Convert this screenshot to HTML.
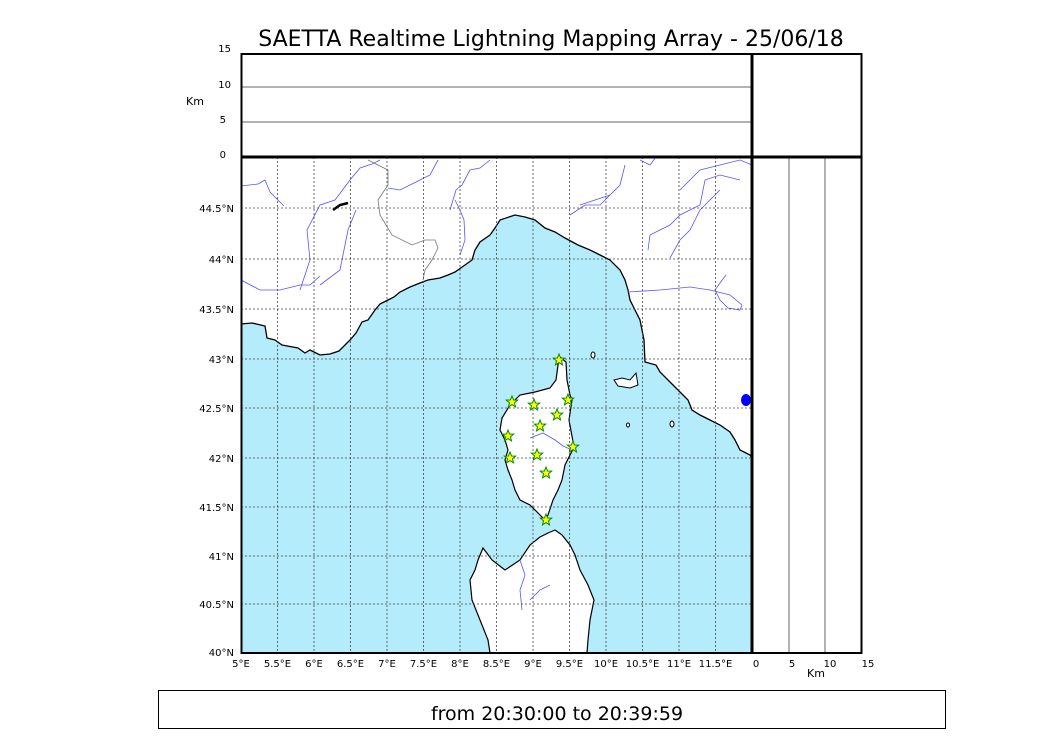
<!DOCTYPE html>
<html><head><meta charset="utf-8"><style>
body{margin:0;background:#fff;width:1050px;height:750px;overflow:hidden;font-family:"DejaVu Sans",sans-serif}
</style></head><body>
<svg width="1050" height="750" viewBox="0 0 1050 750" xmlns="http://www.w3.org/2000/svg" font-family="DejaVu Sans, sans-serif">
<text x="551" y="46" font-size="22" text-anchor="middle">SAETTA Realtime Lightning Mapping Array - 25/06/18</text>
<line x1="241" y1="87" x2="752" y2="87" stroke="#666" stroke-width="1"/>
<line x1="241" y1="122" x2="752" y2="122" stroke="#666" stroke-width="1"/>
<g font-size="10" text-anchor="end">
<text x="231" y="52">15</text><text x="231" y="88">10</text><text x="226" y="123">5</text><text x="226" y="158">0</text>
</g>
<text x="186" y="105" font-size="11">Km</text>
<polygon fill="#b5ecfb" points="241,324 252,323 265,326 267,338 275,340 282,345 298,348 305,353 310,350 320,355 330,354 339,351 350,340 356,333 362,322 368,320 375,310 380,304 388,300 394,297 400,292 410,287 420,283 428,280 440,278 448,275 455,272 465,265 472,260 475,250 480,242 490,235 495,228 500,220 515,215 525,217 535,220 545,228 555,232 565,238 578,245 590,250 600,255 610,260 620,270 625,280 628,290 630,300 635,310 640,320 642,330 644,340 645,362 656,365 660,372 670,382 680,392 688,400 692,410 700,415 710,420 720,425 730,432 735,440 740,450 750,455 752,458 752,653 241,653"/>
<polyline fill="none" stroke="#000" stroke-width="1.3" points="241,324 252,323 265,326 267,338 275,340 282,345 298,348 305,353 310,350 320,355 330,354 339,351 350,340 356,333 362,322 368,320 375,310 380,304 388,300 394,297 400,292 410,287 420,283 428,280 440,278 448,275 455,272 465,265 472,260 475,250 480,242 490,235 495,228 500,220 515,215 525,217 535,220 545,228 555,232 565,238 578,245 590,250 600,255 610,260 620,270 625,280 628,290 630,300 635,310 640,320 642,330 644,340 645,362 656,365 660,372 670,382 680,392 688,400 692,410 700,415 710,420 720,425 730,432 735,440 740,450 750,455 752,458"/>
<polygon fill="#fff" stroke="#000" stroke-width="1.2" points="560,357 566,362 567,380 570,395 572,400 569,420 574,447 565,465 562,480 558,490 553,500 548,515 545,520 540,515 530,505 520,500 515,490 512,480 508,470 505,460 508,450 505,440 500,430 502,418 510,405 520,395 535,392 550,388 556,380 558,365"/>
<polygon fill="#fff" stroke="#000" stroke-width="1.2" points="548,533 555,530 562,535 570,545 575,555 580,570 588,585 594,600 590,620 588,640 587,653 490,653 488,640 480,620 472,600 470,580 475,570 478,560 483,548 492,560 505,570 520,560 530,545 540,537"/>
<polygon fill="#fff" stroke="#000" stroke-width="1" points="614,380 622,378 630,380 636,373 638,385 630,388 618,386"/>
<ellipse cx="593" cy="355" rx="2" ry="3" fill="#fff" stroke="#000"/>
<ellipse cx="672" cy="424" rx="2" ry="3" fill="#fff" stroke="#000"/>
<ellipse cx="628" cy="425" rx="1.5" ry="2" fill="#fff" stroke="#000"/>
<g fill="none" stroke="#55f" stroke-width="0.8">
<polyline points="241,186 258,184 265,180 270,192 284,206"/>
<polyline points="241,280 260,290 280,290 300,285 310,285 320,276"/>
<polyline points="356,210 348,230 345,245 340,270 320,285"/>
<polyline points="300,290 310,260 307,230 320,205 335,200 350,180 360,168 372,164 380,160"/>
<polyline points="388,188 400,190 410,185 420,180 430,175 438,160"/>
<polyline points="450,210 456,190 462,185 470,170 480,168 490,160"/>
<polyline points="460,255 465,240 464,220 460,210 455,200"/>
<polyline points="570,215 585,205 600,205 620,185 625,165"/>
<polyline points="580,205 610,195"/>
<polyline points="648,250 650,235 670,225 680,215 700,205 705,180 720,175 740,180"/>
<polyline points="670,258 680,240 690,230 700,210 720,190"/>
<polyline points="628,292 660,290 690,287 710,290 730,295 742,305 740,310 728,308 720,300 715,290 720,283 726,275"/>
<polyline points="680,190 700,170 720,165 740,160 752,165"/>
<polyline points="530,438 543,433 555,440 563,446 572,450"/>
<polyline points="520,560 525,575 520,590 522,610"/>
<polyline points="530,600 540,590 550,585"/>
<polyline points="640,160 650,165 656,157"/>
</g>
<polyline fill="none" stroke="#777" stroke-width="0.8" points="368,160 388,170 388,185 378,200 380,215 386,225 392,235 412,245 425,240 435,240 438,248 432,260 425,270 423,280"/>
<path d="M333,210 L340,205 L348,203" stroke="#000" stroke-width="2.5" fill="none"/>
<g stroke="#444" stroke-width="0.8" stroke-dasharray="2,2">
<line x1="277.5" y1="157" x2="277.5" y2="653"/><line x1="314" y1="157" x2="314" y2="653"/><line x1="350.5" y1="157" x2="350.5" y2="653"/><line x1="387" y1="157" x2="387" y2="653"/><line x1="423.5" y1="157" x2="423.5" y2="653"/><line x1="460" y1="157" x2="460" y2="653"/><line x1="496.5" y1="157" x2="496.5" y2="653"/><line x1="533" y1="157" x2="533" y2="653"/><line x1="569.5" y1="157" x2="569.5" y2="653"/><line x1="606" y1="157" x2="606" y2="653"/><line x1="642.5" y1="157" x2="642.5" y2="653"/><line x1="679" y1="157" x2="679" y2="653"/><line x1="715.5" y1="157" x2="715.5" y2="653"/>
<line x1="241" y1="208" x2="752" y2="208"/><line x1="241" y1="259" x2="752" y2="259"/><line x1="241" y1="309" x2="752" y2="309"/><line x1="241" y1="359" x2="752" y2="359"/><line x1="241" y1="408" x2="752" y2="408"/><line x1="241" y1="458" x2="752" y2="458"/><line x1="241" y1="507" x2="752" y2="507"/><line x1="241" y1="556" x2="752" y2="556"/><line x1="241" y1="604" x2="752" y2="604"/>
</g>
<defs><polygon id="s" points="0,-6 1.6,-2 5.7,-1.9 2.5,0.8 3.5,4.9 0,2.6 -3.5,4.9 -2.5,0.8 -5.7,-1.9 -1.6,-2" fill="#ff0" stroke="#080" stroke-width="1"/></defs>
<use href="#s" x="559" y="360"/><use href="#s" x="512" y="402"/><use href="#s" x="534" y="405"/><use href="#s" x="568" y="400"/><use href="#s" x="557" y="415"/><use href="#s" x="540" y="426"/><use href="#s" x="508" y="436"/><use href="#s" x="573" y="447"/><use href="#s" x="510" y="458"/><use href="#s" x="537" y="455"/><use href="#s" x="546" y="473"/><use href="#s" x="546" y="520"/>
<ellipse cx="746" cy="400" rx="5" ry="6" fill="#00f"/>
<line x1="789" y1="157" x2="789" y2="653" stroke="#666"/>
<line x1="825" y1="157" x2="825" y2="653" stroke="#666"/>
<rect x="241.5" y="54" width="620" height="599" fill="none" stroke="#000" stroke-width="2"/>
<line x1="752" y1="54" x2="752" y2="653" stroke="#000" stroke-width="3"/>
<line x1="241" y1="157" x2="862" y2="157" stroke="#000" stroke-width="3"/>
<g font-size="10" text-anchor="end">
<text x="234" y="212">44.5°N</text><text x="234" y="263">44°N</text><text x="234" y="313">43.5°N</text><text x="234" y="363">43°N</text><text x="234" y="412">42.5°N</text><text x="234" y="462">42°N</text><text x="234" y="511">41.5°N</text><text x="234" y="560">41°N</text><text x="234" y="608">40.5°N</text><text x="234" y="656">40°N</text>
</g>
<g font-size="10" text-anchor="middle">
<text x="241" y="667">5°E</text><text x="277.5" y="667">5.5°E</text><text x="314" y="667">6°E</text><text x="350.5" y="667">6.5°E</text><text x="387" y="667">7°E</text><text x="423.5" y="667">7.5°E</text><text x="460" y="667">8°E</text><text x="496.5" y="667">8.5°E</text><text x="533" y="667">9°E</text><text x="569.5" y="667">9.5°E</text><text x="606" y="667">10°E</text><text x="642.5" y="667">10.5°E</text><text x="679" y="667">11°E</text><text x="715.5" y="667">11.5°E</text>
<text x="756" y="667">0</text><text x="792" y="667">5</text><text x="830" y="667">10</text><text x="868" y="667">15</text>
</g>
<text x="807" y="677" font-size="11">Km</text>
<rect x="158.5" y="690.5" width="787" height="38" fill="none" stroke="#000" stroke-width="1"/>
<text x="557" y="720" font-size="19" text-anchor="middle">from 20:30:00 to 20:39:59</text>
</svg>
</body></html>
